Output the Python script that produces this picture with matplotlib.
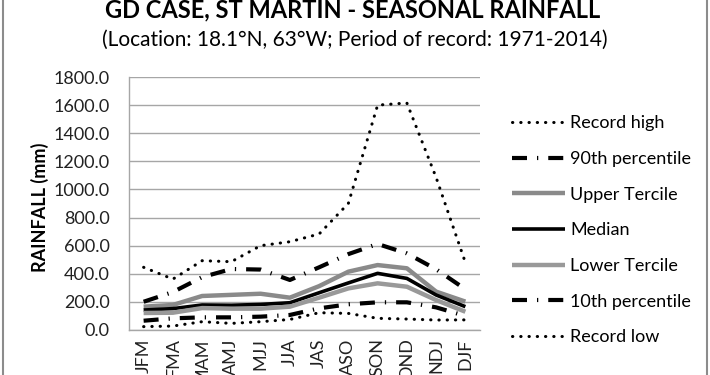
import matplotlib
matplotlib.use("Agg")
import matplotlib.pyplot as plt
from matplotlib.lines import Line2D

plt.rcParams['font.family'] = ['Lato', 'DejaVu Sans']

seasons = ["JFM", "FMA", "MAM", "AMJ", "MJJ", "JJA", "JAS", "ASO", "SON", "OND", "NDJ", "DJF"]
record_high = [446, 362, 493, 486, 600, 628, 683, 901, 1600, 1615, 1085, 480]
p90 = [201, 270, 376, 434, 430, 356, 446, 540, 612, 545, 432, 290]
upper_tercile = [166, 178, 242, 250, 258, 230, 312, 415, 462, 439, 273, 202]
median = [142, 152, 178, 176, 182, 194, 265, 335, 403, 367, 249, 166]
lower_tercile = [121, 123, 156, 152, 152, 166, 230, 296, 332, 308, 213, 130]
p10 = [66, 83, 90, 90, 95, 107, 154, 183, 197, 197, 161, 100]
record_low = [24, 28, 59, 47, 59, 75, 123, 118, 83, 78, 71, 72]
yticks = [0, 200, 400, 600, 800, 1000, 1200, 1400, 1600, 1800]

W, H = 710, 375
fig = plt.figure(figsize=(W / 100, H / 100), dpi=100)
ax = fig.add_axes([129 / W, 1 - 330 / H, (480 - 129) / W, (330 - 77) / H])

x = list(range(len(seasons)))
dashdot = (0, (3.6, 2.4, 0.3, 2.4))
series = [
    ("Record high", record_high, dict(color="black", lw=2.2, linestyle=(0, (0.1, 2.6)), dash_capstyle="round")),
    ("90th percentile", p90, dict(color="black", lw=3.0, linestyle=dashdot, dash_capstyle="butt")),
    ("Upper Tercile", upper_tercile, dict(color="#8a8a8a", lw=3.2)),
    ("Median", median, dict(color="black", lw=2.6)),
    ("Lower Tercile", lower_tercile, dict(color="#999999", lw=3.2)),
    ("10th percentile", p10, dict(color="black", lw=3.0, linestyle=dashdot, dash_capstyle="butt")),
    ("Record low", record_low, dict(color="black", lw=2.2, linestyle=(0, (0.1, 2.6)), dash_capstyle="round")),
]
handles = []
for name, vals, st in series:
    ln, = ax.plot(x, vals, label=name, solid_capstyle="butt", **st)
    handles.append(ln)

ax.set_xlim(-0.5, len(seasons) - 0.5)
ax.set_ylim(0, 1800)
ax.set_yticks(yticks)
ax.set_yticklabels([f"{v:.1f}" for v in yticks], fontsize=13, color="#222222")
ax.set_xticks(x)
ax.set_xticklabels(seasons, rotation=90, fontsize=13, color="#222222", va="top")
ax.tick_params(axis="both", length=0, pad=6)
ax.tick_params(axis="y", pad=14)
ax.yaxis.grid(True, color="#a6a6a6", lw=1)
ax.set_axisbelow(True)
for s in ["top", "right"]:
    ax.spines[s].set_visible(False)
for s in ["left", "bottom"]:
    ax.spines[s].set_color("#a6a6a6")
    ax.spines[s].set_linewidth(1)

fig.text(40 / W, 1 - 207 / H, "RAINFALL (mm)", rotation=90, fontsize=13, fontweight="bold",
         ha="center", va="center")
fig.text(353 / W, 1 - 10 / H, "GD CASE, ST MARTIN - SEASONAL RAINFALL", fontsize=17,
         fontweight="bold", ha="center", va="center")
fig.text(355 / W, 1 - 40 / H, "(Location: 18.1°N, 63°W; Period of record: 1971-2014)", fontsize=15,
         ha="center", va="center")

leg = fig.legend(handles=handles, loc="upper left", bbox_to_anchor=(505 / W, 1 - 108 / H),
                 frameon=False, fontsize=13, handlelength=2.9, handletextpad=0.3,
                 labelspacing=1.09, borderaxespad=0)

border = plt.Rectangle((3 / W, -0.02), (704) / W, 1.04, transform=fig.transFigure,
                       fill=False, edgecolor="#8c8c8c", lw=1.5)
fig.patches.append(border)

fig.savefig("out.png", dpi=100)
